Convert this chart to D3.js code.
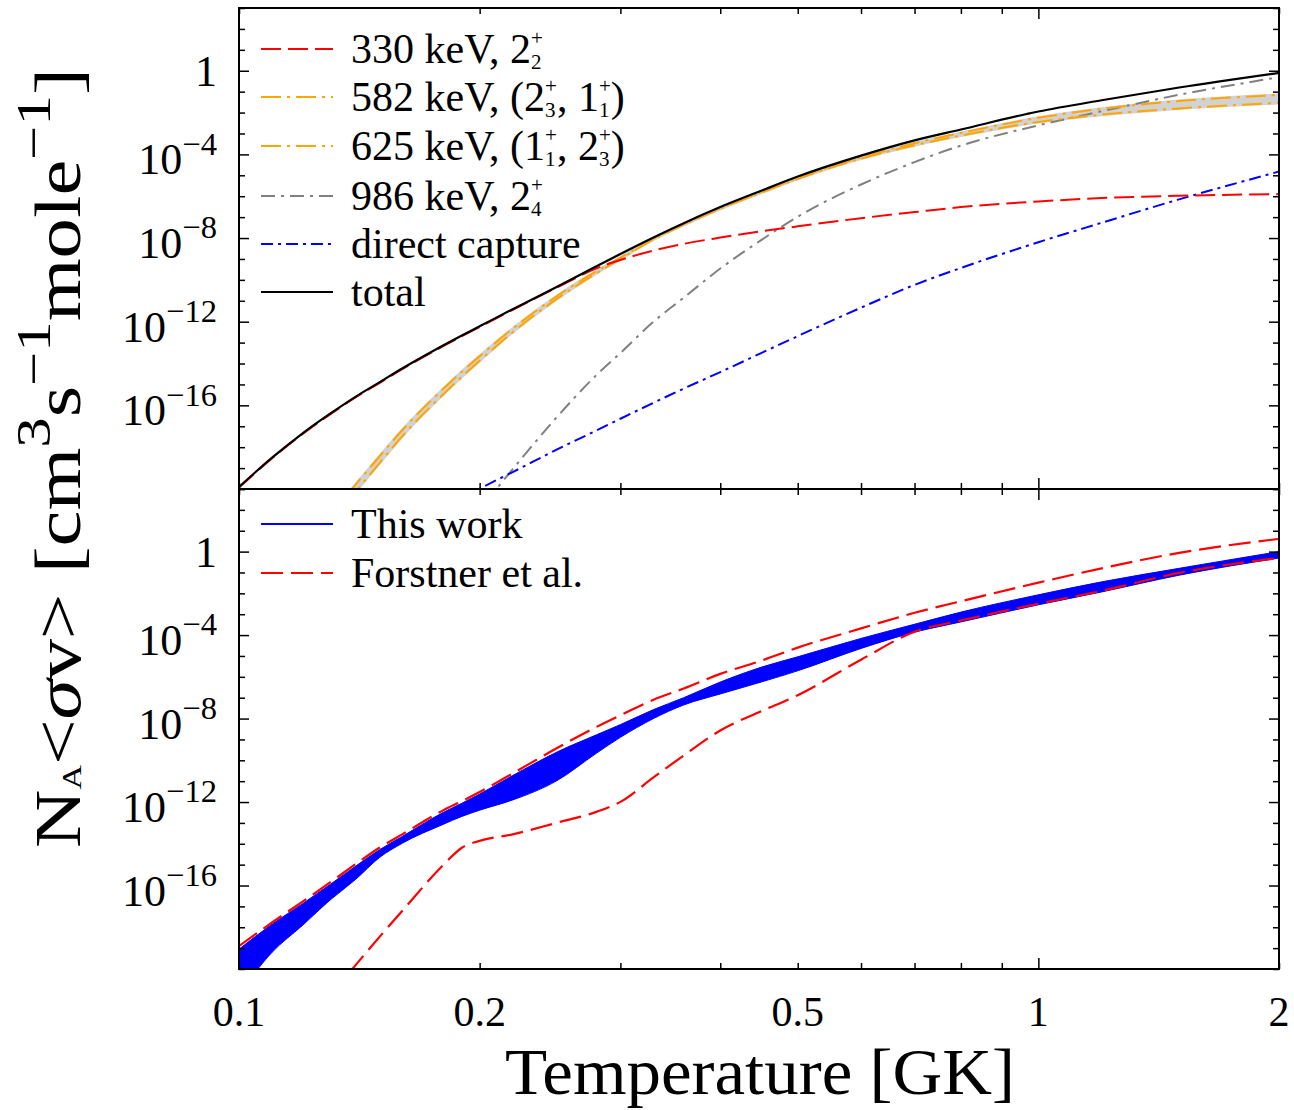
<!DOCTYPE html>
<html><head><meta charset="utf-8">
<script src="https://cdn.jsdelivr.net/npm/d3@7"></script>
<style>
body{margin:0;background:#fff;}
svg{display:block;}
text{font-family:"Liberation Serif","Times New Roman",serif;fill:#000;white-space:pre;}
</style>
</head><body>
<svg id="c" width="1294" height="1110"></svg>
<script>
// ---------------- data ----------------
const temperature = [0.1,0.11,0.12,0.13,0.14,0.15,0.16,0.18,0.19,0.2,0.22,0.25,0.28,0.3,0.33,0.36,0.4,0.45,0.5,0.6,0.7,0.8,1.0,1.2,1.5,2.0];

const rate330 = [1.17e-20,2.95e-19,4.17e-18,3.72e-17,2.45e-16,1.20e-15,5.37e-15,6.76e-14,2.04e-13,5.62e-13,3.72e-12,4.37e-11,3.55e-10,8.91e-10,2.51e-9,5.25e-9,1.05e-8,2.09e-8,3.63e-8,8.91e-8,1.74e-7,3.02e-7,5.62e-7,8.13e-7,1.05e-6,1.26e-6];
const rate582 = [1.58e-27,1.58e-25,1e-23,5.01e-22,1.66e-20,3.72e-19,6.46e-18,6.03e-16,4.07e-15,2.24e-14,4.68e-13,1.70e-11,2.57e-10,1.15e-9,9.33e-9,4.57e-8,2.69e-7,1.58e-6,7.41e-6,7.08e-5,3.39e-4,1.05e-3,5.62e-3,1.51e-2,3.55e-2,6.92e-2];
const rate625 = [6.31e-28,6.31e-26,3.98e-24,2.24e-22,7.59e-21,1.78e-19,3.31e-18,3.31e-16,2.34e-15,1.35e-14,3.16e-13,1.26e-11,2.09e-10,1e-9,8.51e-9,4.27e-8,2.51e-7,1.48e-6,6.76e-6,6.31e-5,2.75e-4,7.94e-4,3.55e-3,7.94e-3,1.58e-2,2.88e-2];
const rate986 = [1e-36,3.16e-34,3.16e-32,1.58e-30,5.01e-29,1e-27,1.26e-26,5.01e-24,7.94e-23,1e-21,8.91e-20,2.82e-17,2.82e-15,3.16e-14,1e-12,1.41e-11,3.47e-10,7.94e-9,1.05e-7,3.63e-6,4.27e-5,2.63e-4,2.45e-3,1.15e-2,7.08e-2,0.490];
const rateDirect = [2.0e-26,1.26e-25,6.31e-25,3.16e-24,1.26e-23,3.98e-23,1.58e-22,1.41e-21,3.98e-21,1.05e-20,6.46e-20,7.76e-19,6.31e-18,2.29e-17,1.32e-16,6.31e-16,3.89e-15,3.16e-14,2.04e-13,4.68e-12,5.75e-11,3.72e-10,6.31e-9,5.37e-8,7.08e-7,1.51e-5];
const rateTotal = [1.26e-20,3.16e-19,4.47e-18,3.98e-17,2.63e-16,1.29e-15,5.75e-15,7.24e-14,2.19e-13,6.03e-13,3.98e-12,4.68e-11,4.47e-10,1.74e-9,1.07e-8,5.13e-8,3.02e-7,1.82e-6,8.71e-6,8.71e-5,4.68e-4,1.55e-3,1.12e-2,3.89e-2,0.158,0.794];

const thisWorkHigh = [8.91e-20,1.41e-18,1.32e-17,1.12e-16,8.51e-16,5.25e-15,2.24e-14,3.16e-13,8.71e-13,2.40e-12,1.86e-11,2.51e-10,1.66e-9,5.13e-9,2.69e-8,1e-7,5.62e-7,2.88e-6,9.12e-6,6.92e-5,3.31e-4,1.26e-3,8.51e-3,3.55e-2,0.158,1.0];
const thisWorkLow = [6.31e-22,6.31e-20,1.20e-18,2.0e-17,2.0e-16,2.24e-15,1.05e-14,8.51e-14,2.04e-13,4.07e-13,1.26e-12,1.07e-11,2.19e-10,1.26e-9,1e-8,4.47e-8,1.51e-7,5.62e-7,1.95e-6,2.29e-5,1.38e-4,4.27e-4,2.82e-3,1.17e-2,7.41e-2,0.490];
const forstnerHigh = [1.26e-19,1.70e-18,1.66e-17,1.41e-16,1.07e-15,6.61e-15,2.82e-14,3.98e-13,1.10e-12,3.02e-12,2.34e-11,3.89e-10,3.98e-9,1.45e-8,7.94e-8,2.75e-7,1.38e-6,5.89e-6,2.51e-5,2.09e-4,1.17e-3,4.17e-3,3.24e-2,0.158,0.871,4.07];
const forstnerLow = [1e-27,1e-25,1e-23,5.01e-22,1.58e-20,3.55e-19,6.03e-18,9.33e-16,6.46e-15,1.38e-14,2.82e-14,1.02e-13,3.39e-13,1.02e-12,1.51e-11,1.70e-10,2.69e-9,2.24e-8,1.32e-7,6.61e-6,1.45e-4,5.01e-4,3.16e-3,1.32e-2,9.55e-2,0.501];

const xTickValues = [0.1,0.2,0.3,0.4,0.5,0.6,0.7,0.8,0.9,1,2];
const xMajorTicks = [1];
const xTickLabels = ["0.1","0.2","0.5","1","2"];
const xTickLabelValues = [0.1,0.2,0.5,1,2];
const yDecades = [1e-20,1e-19,1e-18,1e-17,1e-16,1e-15,1e-14,1e-13,1e-12,1e-11,1e-10,1e-9,1e-8,1e-7,1e-6,1e-5,1e-4,1e-3,1e-2,1e-1,1,10,100,1000];
const yLabelValues = [1e-16,1e-12,1e-8,1e-4,1];
const yLabelExponents = ["−16","−12","−8","−4",""];

// ---------------- layout ----------------
const svg = d3.select("#c");
const L = 239, R = 1279, TOP = 8, MID = 489, BOT = 969;

const x = d3.scaleLog().domain([0.1, 2]).range([L, R]);
const yTop = d3.scaleLog().domain([1e-20, 1e3]).range([MID, TOP]);
const yBot = d3.scaleLog().domain([1e-20, 1e3]).range([BOT, MID]);

const defs = svg.append("defs");
defs.append("clipPath").attr("id","clipTop").append("rect").attr("x",L).attr("y",TOP).attr("width",R-L).attr("height",MID-TOP);
defs.append("clipPath").attr("id","clipBot").append("rect").attr("x",L).attr("y",MID).attr("width",R-L).attr("height",BOT-MID);

// one <text> per label, scripts as tspans
function rich(parent, parts, size){
  const g = parent.append("g");
  const t = g.append("text").attr("x",0).attr("y",0).attr("font-size",size);
  let shift = 0, pendingDx = 0;
  for (const p of parts){
    if (p.t != null){
      const ts = t.append("tspan").attr("dy", -shift).attr("font-style", p.i ? "italic" : null).text(p.t);
      if (pendingDx) ts.attr("dx", pendingDx);
      pendingDx = 0; shift = 0;
    } else {
      const s = size*(p.s || 0.5);
      let wSup = 0;
      if (p.sup != null){
        const up = -size*(p.up || 0.44);
        const ts = t.append("tspan").attr("font-size",s).attr("dy", up - shift).text(p.sup);
        if (pendingDx) ts.attr("dx", pendingDx);
        pendingDx = 0;
        shift = up; wSup = ts.node().getComputedTextLength();
      }
      if (p.sub != null){
        const dn = size*(p.dn || 0.131);
        const ts = t.append("tspan").attr("font-size",s).attr("dy", dn - shift).text(p.sub);
        if (p.sup != null) ts.attr("dx", -wSup);
        shift = dn;
        const wSub = ts.node().getComputedTextLength();
        if (p.sup != null && wSup > wSub) pendingDx = wSup - wSub;
      }
    }
  }
  const w = t.node().getBBox().width;
  return {g, w};
}

const lineTop = arr => d3.line().x((d,i)=>x(temperature[i])).y(d=>yTop(d)).curve(d3.curveMonotoneX)(arr);
const lineBot = arr => d3.line().x((d,i)=>x(temperature[i])).y(d=>yBot(d)).curve(d3.curveMonotoneX)(arr);

// ---------------- top panel ----------------
const gTop = svg.append("g").attr("clip-path","url(#clipTop)");
gTop.append("path")
  .attr("d", d3.area().x((d,i)=>x(temperature[i])).y0((d,i)=>yTop(rate625[i])).y1(d=>yTop(d)).curve(d3.curveMonotoneX)(rate582))
  .attr("fill","#d2d2d2").attr("stroke","#d2d2d2").attr("stroke-width",3);

const topSeries = [
  {data: rate986, color:"#808080", dash:"14,6,3,6", w:2},
  {data: rateDirect, color:"#0000ff", dash:"12,5,3,5", w:2},
  {data: rate625, color:"#ffa500", dash:"20,6,3,6", w:2},
  {data: rate582, color:"#ffa500", dash:"20,6,3,6", w:2},
  {data: rate330, color:"#ff0000", dash:"20,7", w:2},
  {data: rateTotal, color:"#000000", dash:null, w:2.2}
];
topSeries.forEach(s => {
  gTop.append("path").attr("d", lineTop(s.data)).attr("fill","none")
    .attr("stroke", s.color).attr("stroke-width", s.w).attr("stroke-dasharray", s.dash);
});

// ---------------- bottom panel ----------------
const gBot = svg.append("g").attr("clip-path","url(#clipBot)");
gBot.append("path")
  .attr("d", d3.area().x((d,i)=>x(temperature[i])).y0((d,i)=>yBot(thisWorkLow[i])).y1(d=>yBot(d)).curve(d3.curveMonotoneX)(thisWorkHigh))
  .attr("fill","#0000ff").attr("stroke","#0000ff").attr("stroke-width",1);
[forstnerHigh, forstnerLow].forEach(arr => {
  gBot.append("path").attr("d", lineBot(arr)).attr("fill","none")
    .attr("stroke","#ff0000").attr("stroke-width",2.2).attr("stroke-dasharray","22,8");
});

// ---------------- axes ----------------
const yMinor = yDecades.filter(v => !yLabelValues.includes(v));
const xMinor = xTickValues.filter(v => !xMajorTicks.includes(v));
function styleAxis(g){ g.select(".domain").remove(); g.selectAll(".tick line").attr("stroke","#000").attr("stroke-width",1.5); g.selectAll(".tick text").remove(); }

[yTop, yBot].forEach(y => {
  svg.append("g").attr("transform",`translate(${L},0)`).call(d3.axisLeft(y).tickValues(yMinor).tickSize(-6).tickFormat("")).call(styleAxis);
  svg.append("g").attr("transform",`translate(${L},0)`).call(d3.axisLeft(y).tickValues(yLabelValues).tickSize(-10).tickFormat("")).call(styleAxis);
  svg.append("g").attr("transform",`translate(${R},0)`).call(d3.axisRight(y).tickValues(yMinor).tickSize(-6).tickFormat("")).call(styleAxis);
  svg.append("g").attr("transform",`translate(${R},0)`).call(d3.axisRight(y).tickValues(yLabelValues).tickSize(-10).tickFormat("")).call(styleAxis);
});
[[TOP,"top"],[MID,"bottom"],[MID,"top"],[BOT,"bottom"]].forEach(([yy,side]) => {
  const ax = side==="top" ? d3.axisTop(x) : d3.axisBottom(x);
  svg.append("g").attr("transform",`translate(0,${yy})`).call(ax.tickValues(xMinor).tickSize(-6).tickFormat("")).call(styleAxis);
  const ax2 = side==="top" ? d3.axisTop(x) : d3.axisBottom(x);
  svg.append("g").attr("transform",`translate(0,${yy})`).call(ax2.tickValues(xMajorTicks).tickSize(-11).tickFormat("")).call(styleAxis);
});

// frames
[[TOP,MID],[MID,BOT]].forEach(([a,b]) => {
  svg.append("rect").attr("x",L).attr("y",a).attr("width",R-L).attr("height",b-a)
    .attr("fill","none").attr("stroke","#000").attr("stroke-width",2);
});

// y tick labels
[yTop, yBot].forEach(y => {
  yLabelValues.forEach((v,i) => {
    const e = yLabelExponents[i];
    const parts = e ? [{t:"10"},{sup:e, s:0.74, up:0.45}] : [{t:"1"}];
    const r = rich(svg, parts, 44);
    r.g.attr("transform",`translate(${217 - r.w},${y(v) + (e ? 20 : 15)})`);
  });
});

// x tick labels
xTickLabelValues.forEach((v,i) => {
  const r = rich(svg, [{t:xTickLabels[i]}], 42);
  r.g.attr("transform",`translate(${x(v) - r.w/2},1026)`);
});

// x title
{
  const r = rich(svg, [{t:"Temperature [GK]"}], 66);
  r.g.attr("transform",`translate(505,1094) scale(${510/r.w},1)`);
}
// y title
{
  const holder = svg.append("g").attr("transform","translate(80,458) rotate(-90)");
  const r = rich(holder, [
    {t:"N"},{sub:"A", s:0.42, dn:0.02},{t:"<"},{t:"σ", i:true},{t:"v> [cm"},
    {sup:"3", s:0.75, up:0.45},{t:"s"},{sup:"−1", s:0.75, up:0.45},{t:"mole"},{sup:"−1", s:0.75, up:0.45},{t:"]"}
  ], 66);
  const k = 780 / r.w;
  r.g.attr("transform",`scale(${k},1) translate(${-r.w/2},0)`);
}

// ---------------- legends ----------------
const legendTop = [
  {parts:[{t:"330 keV, 2"},{sup:"+",sub:"2"}], color:"#ff0000", dash:"20,7", w:2},
  {parts:[{t:"582 keV, (2"},{sup:"+",sub:"3"},{t:", 1"},{sup:"+",sub:"1"},{t:")"}], color:"#ffa500", dash:"20,6,3,6", w:2},
  {parts:[{t:"625 keV, (1"},{sup:"+",sub:"1"},{t:", 2"},{sup:"+",sub:"3"},{t:")"}], color:"#ffa500", dash:"20,6,3,6", w:2},
  {parts:[{t:"986 keV, 2"},{sup:"+",sub:"4"}], color:"#808080", dash:"14,6,3,6", w:2},
  {parts:[{t:"direct capture"}], color:"#0000ff", dash:"12,5,3,5", w:2},
  {parts:[{t:"total"}], color:"#000000", dash:null, w:2}
];
const legendTopRows = [49,97,146,196,244,292];
legendTop.forEach((d,i) => {
  const yy = legendTopRows[i];
  svg.append("line").attr("x1",261).attr("x2",333).attr("y1",yy).attr("y2",yy)
    .attr("stroke",d.color).attr("stroke-width",d.w).attr("stroke-dasharray",d.dash);
  const r = rich(svg, d.parts, 42);
  r.g.attr("transform",`translate(351,${yy+14})`);
});
const legendBot = [
  {parts:[{t:"This work"}], color:"#0000ff", dash:null},
  {parts:[{t:"Forstner et al."}], color:"#ff0000", dash:"22,8"}
];
const legendBotRows = [524,573];
legendBot.forEach((d,i) => {
  const yy = legendBotRows[i];
  svg.append("line").attr("x1",261).attr("x2",333).attr("y1",yy).attr("y2",yy)
    .attr("stroke",d.color).attr("stroke-width",2).attr("stroke-dasharray",d.dash);
  const r = rich(svg, d.parts, 42);
  r.g.attr("transform",`translate(351,${yy+14})`);
});
</script>
</body></html>
